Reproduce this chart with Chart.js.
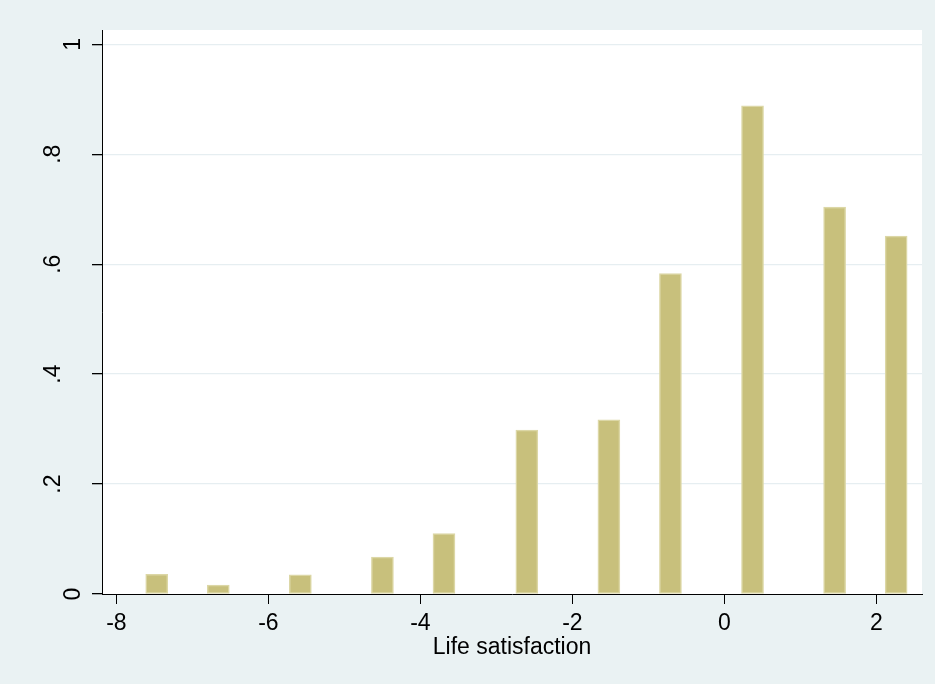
<!DOCTYPE html>
<html>
<head>
<meta charset="utf-8">
<title>Life satisfaction histogram</title>
<script src="https://cdn.jsdelivr.net/npm/chart.js@4/dist/chart.umd.min.js"></script>
<style>
  html, body { margin: 0; padding: 0; background: #eaf2f3; }
  #wrap { width: 935px; height: 684px; }
</style>
</head>
<body>
<div id="wrap"><canvas id="hist" width="935" height="684"></canvas></div>
<script>
// Histogram bins (mid-points) and their densities
const binMids = [-7.47, -6.66, -5.58, -4.50, -3.69, -2.60, -1.52, -0.71, 0.37, 1.45, 2.26];
const density = [0.036, 0.016, 0.035, 0.067, 0.110, 0.298, 0.317, 0.583, 0.888, 0.704, 0.651];

// Axis ticks and their labels
const xTicks = [-8, -6, -4, -2, 0, 2];
const xTickLabels = ['-8', '-6', '-4', '-2', '0', '2'];
const yTicks = [0, 0.2, 0.4, 0.6, 0.8, 1];
const yTickLabels = ['0', '.2', '.4', '.6', '.8', '1'];

const xTitle = 'Life satisfaction';

const FONT = { family: "'Liberation Sans', Arial, sans-serif", size: 23 };

// White plot region on the light graph background
const plotBackground = {
  id: 'plotBackground',
  beforeDraw(chart) {
    const { ctx, chartArea: a } = chart;
    ctx.save();
    ctx.fillStyle = '#eaf2f3';
    ctx.fillRect(0, 0, chart.width, chart.height);
    ctx.fillStyle = '#ffffff';
    ctx.fillRect(a.left, a.top, a.right - a.left, a.bottom - a.top);
    ctx.restore();
  }
};

// Vertical y labels: decimal labels sit one half-line further out than whole numbers
const yLabelLines = i => {
  const s = yTickLabels[i];
  return s.startsWith('.') ? [s, ''] : ['', s];
};

new Chart(document.getElementById('hist'), {
  type: 'bar',
  data: {
    datasets: [{
      data: binMids.map((x, i) => ({ x, y: density[i] })),
      backgroundColor: '#c8c07c',
      borderColor: '#dcd7a6',
      borderWidth: 1.5,
      borderSkipped: false,
      barThickness: 22
    }]
  },
  options: {
    responsive: false,
    animation: false,
    events: [],
    layout: { padding: { left: 0, top: 30, right: 13, bottom: 0 } },
    plugins: { legend: { display: false }, tooltip: { enabled: false } },
    scales: {
      x: {
        type: 'linear',
        offset: false,
        min: -8.19,
        max: 2.6,
        afterBuildTicks: s => { s.ticks = xTicks.map(v => ({ value: v })); },
        afterFit: s => { s.height = 90; s.paddingLeft = 0; s.paddingRight = 0; },
        grid: { offset: false, drawOnChartArea: false, drawTicks: true, tickLength: 10, tickColor: '#000', tickWidth: 1 },
        border: { color: '#000', width: 1 },
        ticks: {
          font: FONT, color: '#000', padding: 6, maxRotation: 0, minRotation: 0,
          callback: (v, i) => xTickLabels[i]
        },
        title: {
          display: true, text: xTitle, font: FONT, color: '#000',
          padding: { top: 0, bottom: 23 }
        }
      },
      y: {
        type: 'linear',
        min: 0,
        max: 1.026,
        afterBuildTicks: s => { s.ticks = yTicks.map(v => ({ value: v })); },
        afterFit: s => { s.width = 102; s.paddingTop = 0; s.paddingBottom = 0; },
        grid: {
          drawOnChartArea: true, drawTicks: true, tickLength: 10,
          color: ctx => ctx.tick && ctx.tick.value === 0 ? 'rgba(0,0,0,0)' : '#e6eef1',
          tickColor: '#000', lineWidth: 1.3
        },
        border: { color: '#000', width: 1 },
        ticks: {
          font: { ...FONT, lineHeight: 0.88 }, color: '#000', padding: 19,
          minRotation: 90, maxRotation: 90,
          crossAlign: 'center',
          callback: (v, i) => yLabelLines(i)
        }
      }
    }
  },
  plugins: [plotBackground]
});
</script>
</body>
</html>
